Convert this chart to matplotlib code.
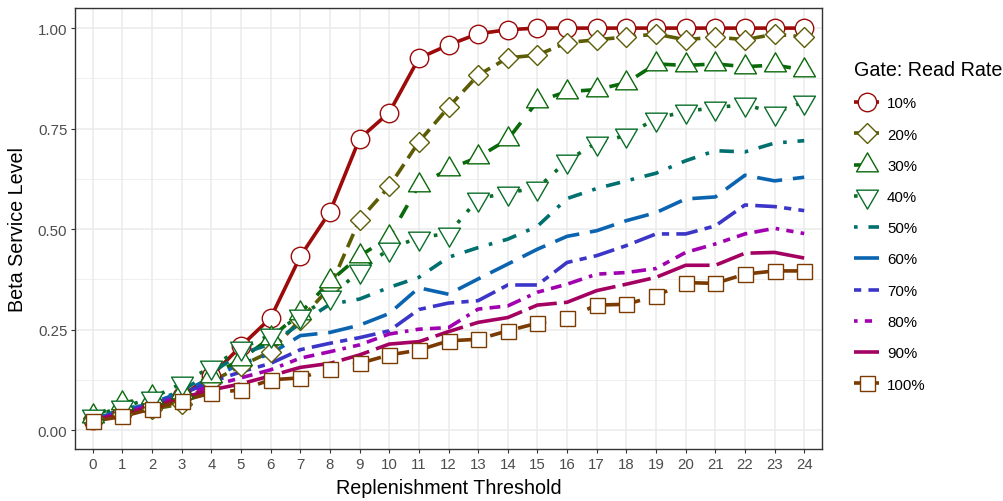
import matplotlib
matplotlib.use('Agg')
import matplotlib.pyplot as plt
from matplotlib.lines import Line2D
from matplotlib.path import Path

plt.rcParams['font.family'] = ['Liberation Sans', 'DejaVu Sans']

# 📌 1. 資料：補貨門檻 vs Beta 服務水準
thresholds = list(range(25))
rate_labels = ['10%', '20%', '30%', '40%', '50%', '60%', '70%', '80%', '90%', '100%']

beta_10 = [0.025, 0.042, 0.060, 0.085, 0.135, 0.209, 0.279, 0.432, 0.543, 0.725, 0.790, 0.925, 0.958,
           0.986, 0.996, 1.000, 1.000, 1.000, 1.000, 1.000, 1.000, 1.000, 1.000, 1.000, 1.000]
beta_20 = [0.030, 0.040, 0.052, 0.065, 0.120, 0.160, 0.195, 0.275, 0.355, 0.523, 0.606, 0.717, 0.803,
           0.883, 0.926, 0.933, 0.964, 0.971, 0.978, 0.985, 0.971, 0.978, 0.971, 0.985, 0.978]
beta_30 = [0.034, 0.067, 0.083, 0.095, 0.135, 0.176, 0.230, 0.291, 0.370, 0.433, 0.480, 0.609, 0.649,
           0.679, 0.723, 0.818, 0.842, 0.847, 0.864, 0.911, 0.907, 0.911, 0.904, 0.908, 0.896]
beta_40 = [0.035, 0.057, 0.080, 0.116, 0.157, 0.203, 0.237, 0.284, 0.332, 0.395, 0.451, 0.479, 0.489,
           0.575, 0.591, 0.602, 0.670, 0.715, 0.733, 0.775, 0.793, 0.802, 0.810, 0.789, 0.817]
beta_50 = [0.030, 0.050, 0.070, 0.098, 0.143, 0.190, 0.214, 0.265, 0.313, 0.326, 0.355, 0.380, 0.430,
           0.454, 0.475, 0.507, 0.576, 0.601, 0.620, 0.639, 0.670, 0.695, 0.692, 0.714, 0.720]
beta_60 = [0.028, 0.048, 0.068, 0.094, 0.130, 0.165, 0.190, 0.235, 0.243, 0.261, 0.290, 0.354, 0.338,
           0.376, 0.413, 0.450, 0.482, 0.496, 0.521, 0.541, 0.575, 0.580, 0.634, 0.620, 0.629]
beta_70 = [0.027, 0.045, 0.065, 0.090, 0.120, 0.145, 0.166, 0.200, 0.216, 0.230, 0.247, 0.300, 0.316,
           0.322, 0.361, 0.361, 0.417, 0.434, 0.459, 0.488, 0.488, 0.508, 0.560, 0.556, 0.546]
beta_80 = [0.025, 0.043, 0.060, 0.085, 0.110, 0.130, 0.150, 0.179, 0.195, 0.212, 0.239, 0.251, 0.255,
           0.301, 0.309, 0.343, 0.363, 0.388, 0.392, 0.402, 0.442, 0.463, 0.488, 0.502, 0.489]
beta_90 = [0.024, 0.040, 0.058, 0.080, 0.100, 0.115, 0.135, 0.156, 0.166, 0.187, 0.214, 0.220, 0.245,
           0.268, 0.280, 0.311, 0.318, 0.347, 0.363, 0.380, 0.410, 0.410, 0.440, 0.442, 0.428]
beta_100 = [0.022, 0.034, 0.053, 0.073, 0.092, 0.100, 0.125, 0.130, 0.153, 0.166, 0.187, 0.199, 0.222,
            0.226, 0.247, 0.266, 0.278, 0.311, 0.313, 0.334, 0.367, 0.365, 0.388, 0.396, 0.396]

series = [beta_10, beta_20, beta_30, beta_40, beta_50, beta_60, beta_70, beta_80, beta_90, beta_100]

# 📌 2. 樣式
colors = ['#9c0a0a', '#5c5c05', '#0a690a', '#0a6e2a', '#006f6f',
          '#0a64b0', '#3c36c8', '#a000b0', '#a30062', '#7a3a00']
dashes = [None, (4, 2), (4, 4), (1, 3), (1, 3, 4, 3), (7, 3), (2, 2, 6, 2),
          (1, 2, 2, 2, 3, 2, 4, 2), (15, 2, 8, 2), (15, 4, 4, 4, 8, 4, 4, 4)]
tri_up = Path([(0, 1), (0.866, -0.5), (-0.866, -0.5), (0, 1)], closed=True)
tri_down = Path([(0, -1), (0.866, 0.5), (-0.866, 0.5), (0, -1)], closed=True)
markers = ['o', 'D', tri_up, tri_down, None, None, None, None, None, 's']
msizes = [13.3, 10.4, 18.2, 18.2, 0, 0, 0, 0, 0, 10.8]
LW = 2.6

# 📌 3. 繪圖
fig = plt.figure(figsize=(10.04, 5.02), dpi=100)
ax = fig.add_axes([75 / 1004, 52 / 502, 747 / 1004, 441 / 502])

# lines first, then points (like ggplot layers)
for ys, c, d in zip(series, colors, dashes):
    line, = ax.plot(thresholds, ys, color=c, lw=LW, solid_capstyle='butt', zorder=3)
    if d:
        line.set_dashes(d)

for ys, c, m, ms in zip(series, colors, markers, msizes):
    if m is None:
        continue
    ax.plot(thresholds, ys, ls='none', marker=m, ms=ms, mfc='white', mec=c, mew=1.0, zorder=4)

ax.set_xlim(-0.6, 24.6)
ax.set_ylim(-0.047, 1.05)
ax.set_xticks(thresholds)
ax.set_xticklabels([str(t) for t in thresholds])
ax.set_yticks([0, 0.25, 0.5, 0.75, 1.0])
ax.set_yticklabels(['0.00', '0.25', '0.50', '0.75', '1.00'])
ax.set_yticks([0.125, 0.375, 0.625, 0.875], minor=True)

ax.grid(which='major', color='#EBEBEB', lw=1.1)
ax.grid(which='minor', axis='y', color='#EBEBEB', lw=0.55)
ax.set_axisbelow(True)

ax.tick_params(which='major', direction='out', length=3, width=0.8, color='#333333',
               labelcolor='#4D4D4D', labelsize=10.8, pad=2.5)
ax.tick_params(which='minor', length=0)
for sp in ax.spines.values():
    sp.set_color('#333333')
    sp.set_linewidth(1.0)

ax.set_xlabel('Replenishment Threshold', fontsize=14.2, color='black', va='center')
ax.xaxis.set_label_coords(0.5, (450 - 489) / 441)
ax.set_ylabel('Beta Service Level', fontsize=14.2, color='black', va='center', ha='center')
ax.yaxis.set_label_coords((18 - 75) / 747, 0.5)

# 📌 4. 圖例
handles = []
for c, d, m, ms in zip(colors, dashes, markers, msizes):
    h = Line2D([], [], color=c, lw=LW, solid_capstyle='butt', marker=m, ms=ms,
               mfc='white', mec=c, mew=1.0)
    if d:
        h.set_dashes(d)
    handles.append(h)

ax.legend(handles, rate_labels, title='Gate: Read Rate', loc='upper left',
          bbox_to_anchor=(854 / 1004, 1 - 61 / 502), bbox_transform=fig.transFigure,
          frameon=False, fontsize=10.8, title_fontsize=14.2, handlelength=1.7,
          handletextpad=0.5, labelspacing=1.15, borderpad=0, borderaxespad=0,
          alignment='left')

fig.savefig('out.png', dpi=100)
